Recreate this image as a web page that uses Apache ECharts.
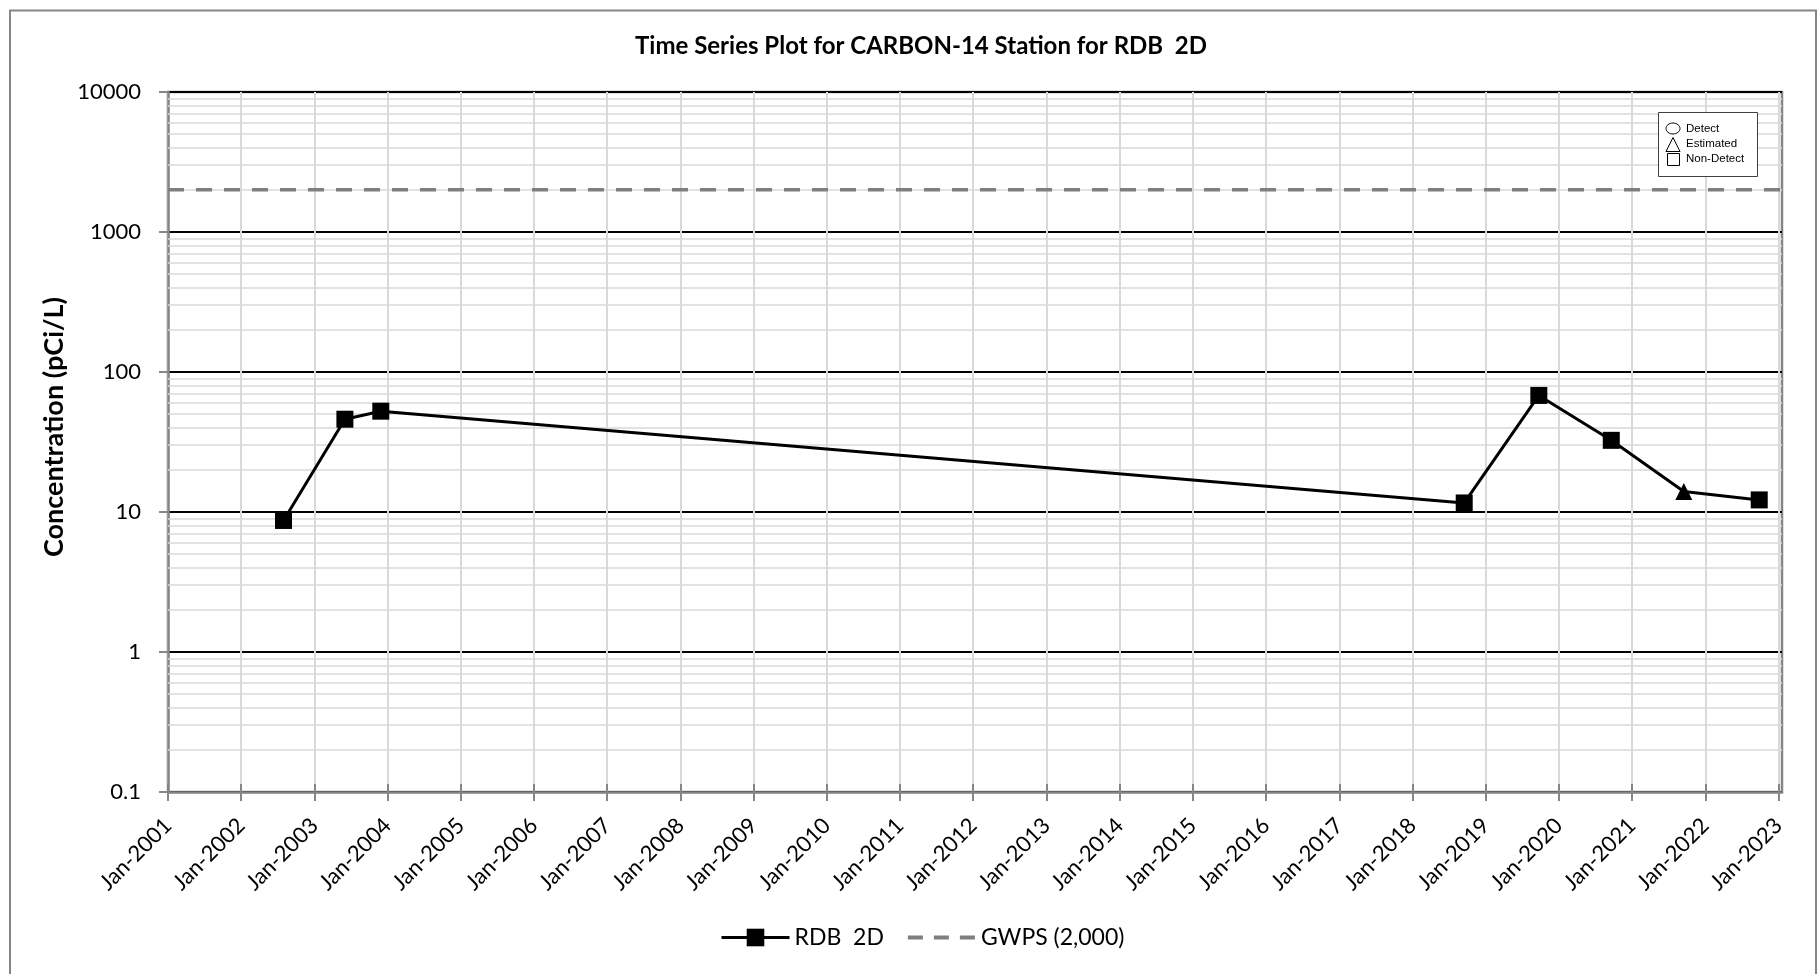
<!DOCTYPE html>
<html><head><meta charset="utf-8">
<script src="https://cdn.jsdelivr.net/npm/echarts@6/dist/echarts.min.js"></script>
<style>html,body{margin:0;padding:0;background:#fff}#c{width:1818px;height:974px}</style>
</head><body><div id="c"></div>
<script>
// ---- data ----
const chartTitle = 'Time Series Plot for CARBON-14 Station for RDB  2D';
const yAxisTitle = 'Concentration (pCi/L)';
const seriesName = 'RDB  2D';
const sampleDates = ['2002-07-31','2003-06-02','2003-11-28','2018-09-16','2019-09-23','2020-09-19','2021-09-16','2022-09-27'];
const concentrations = [8.7, 46, 52.5, 11.6, 68, 32.5, 14.0, 12.2];
const qualifiers = ['ND','ND','ND','ND','ND','ND','E','ND'];
const gwpsName = 'GWPS (2,000)';
const gwpsValue = 2000;
const xTickYears = [2001,2002,2003,2004,2005,2006,2007,2008,2009,2010,2011,2012,2013,2014,2015,2016,2017,2018,2019,2020,2021,2022,2023];
const yTickValues = [0.1, 1, 10, 100, 1000, 10000];
const xMin = 2001, xMax = 2023.048;
const keyLabels = ['Detect', 'Estimated', 'Non-Detect'];

// ---- helpers ----
function toYear(s) {
  const [y, m, d] = s.split('-').map(Number);
  const a = Date.UTC(y, 0, 1), b = Date.UTC(y + 1, 0, 1);
  return y + (Date.UTC(y, m - 1, d) - a) / (b - a);
}
const symMap = { D: 'circle', E: 'triangle', ND: 'rect' };
const mainData = sampleDates.map((s, i) => ({ value: [toYear(s), concentrations[i]], symbol: symMap[qualifiers[i]] }));
const gwpsData = [[xMin, gwpsValue], [xMax, gwpsValue]];
const minorLines = [];
for (let i = 0; i < yTickValues.length - 1; i++) {
  for (let k = 2; k <= 9; k++) minorLines.push({ yAxis: yTickValues[i] * k });
}
const FONT = 'Lato';
const chart = echarts.init(document.getElementById('c'), null, { renderer: 'canvas' });
const option = {
  animation: false,
  backgroundColor: '#fff',
  textStyle: { fontFamily: FONT },
  title: {
    text: chartTitle, left: 921, top: 34, textAlign: 'center', padding: 0,
    textStyle: { fontFamily: FONT, fontWeight: 'bold', fontSize: 24, color: '#000' }
  },
  grid: { left: 168, top: 92, width: 1614, height: 700, show: true, borderColor: '#868686', borderWidth: 2.5, containLabel: false },
  legend: {
    left: 720, top: 926, itemWidth: 68, itemHeight: 22, itemGap: 22, padding: 0,
    data: [
      { name: seriesName, lineStyle: { width: 3, color: '#000' } },
      { name: gwpsName, itemStyle: { opacity: 0 }, lineStyle: { width: 4, color: '#7f7f7f', type: [15, 11] } }
    ],
    textStyle: { fontFamily: FONT, fontSize: 23, color: '#000' }
  },
  xAxis: [{
    type: 'value', min: xMin, max: xMax, interval: 1, position: 'bottom',
    axisLine: { show: true, lineStyle: { color: '#868686', width: 2.5 } },
    axisTick: { show: true, length: 9, customValues: xTickYears, lineStyle: { color: '#868686', width: 2 } },
    axisLabel: { customValues: xTickYears, rotate: 45, margin: 30, fontFamily: FONT, fontSize: 22, color: '#000', formatter: v => 'Jan-' + Math.round(v) },
    splitLine: { show: true, lineStyle: { color: '#d9d9d9', width: 2 } }
  }, {
    type: 'value', min: xMin, max: xMax, interval: 1, position: 'bottom',
    axisLine: { show: false },
    axisTick: { show: true, inside: true, length: 8, customValues: xTickYears, lineStyle: { color: '#868686', width: 2 } },
    axisLabel: { show: false }, splitLine: { show: false }
  }],
  yAxis: {
    type: 'log', logBase: 10, min: yTickValues[0], max: yTickValues[yTickValues.length - 1],
    axisLine: { show: true, lineStyle: { color: '#868686', width: 2.5 } },
    axisTick: { show: true, length: 9, lineStyle: { color: '#868686', width: 2 } },
    axisLabel: { margin: 27, fontFamily: FONT, fontSize: 22, color: '#000', formatter: v => String(Number(v.toPrecision(6))) },
    splitLine: { show: true, lineStyle: { color: '#000', width: 2 } },
    minorTick: { show: false }, minorSplitLine: { show: false }
  },
  series: [{
    name: '__minor', type: 'line', data: [], z: 1, silent: true,
    markLine: { z: 1, silent: true, symbol: ['none', 'none'], label: { show: false }, animation: false,
      lineStyle: { color: '#d9d9d9', width: 1.5, type: 'solid' }, emphasis: { disabled: true }, data: minorLines }
  }, {
    name: gwpsName, type: 'line', data: gwpsData, z: 3, symbol: 'none', silent: true,
    lineStyle: { color: '#7f7f7f', width: 3.5, type: [16, 12] }, itemStyle: { color: '#7f7f7f' }
  }, {
    name: seriesName, type: 'line', data: mainData, z: 6, symbol: 'rect', symbolSize: 17,
    lineStyle: { color: '#000', width: 3 }, itemStyle: { color: '#000' }
  }],
  graphic: [
    { type: 'rect', silent: true, shape: { x: 10, y: 10.5, width: 1806, height: 1000 }, style: { fill: 'none', stroke: '#868686', lineWidth: 2 }, z: -1 },
    { type: 'text', silent: true, x: 54, y: 427, rotation: Math.PI / 2,
      style: { text: yAxisTitle, fontFamily: FONT, fontWeight: 'bold', fontSize: 27, fill: '#000', textAlign: 'center', textVerticalAlign: 'middle' } },
    { type: 'rect', silent: true, shape: { x: 1658.5, y: 112.5, width: 99, height: 64 }, style: { fill: '#fff', stroke: '#404040', lineWidth: 1 }, z: 10 },
    { type: 'ellipse', silent: true, shape: { cx: 1673, cy: 128.5, rx: 7, ry: 5.5 }, style: { fill: 'none', stroke: '#000', lineWidth: 1 }, z: 11 },
    { type: 'polygon', silent: true, shape: { points: [[1673, 137.5], [1666, 151.5], [1680, 151.5]] }, style: { fill: 'none', stroke: '#000', lineWidth: 1 }, z: 11 },
    { type: 'rect', silent: true, shape: { x: 1667.5, y: 153.5, width: 12, height: 12 }, style: { fill: 'none', stroke: '#000', lineWidth: 1 }, z: 11 },
    { type: 'text', silent: true, x: 1686, y: 129, style: { text: keyLabels[0], fontFamily: 'Liberation Sans', fontSize: 11.5, fill: '#000', textVerticalAlign: 'middle' }, z: 11 },
    { type: 'text', silent: true, x: 1686, y: 144, style: { text: keyLabels[1], fontFamily: 'Liberation Sans', fontSize: 11.5, fill: '#000', textVerticalAlign: 'middle' }, z: 11 },
    { type: 'text', silent: true, x: 1686, y: 159, style: { text: keyLabels[2], fontFamily: 'Liberation Sans', fontSize: 11.5, fill: '#000', textVerticalAlign: 'middle' }, z: 11 }
  ]
};
chart.setOption(option);
</script></body></html>
